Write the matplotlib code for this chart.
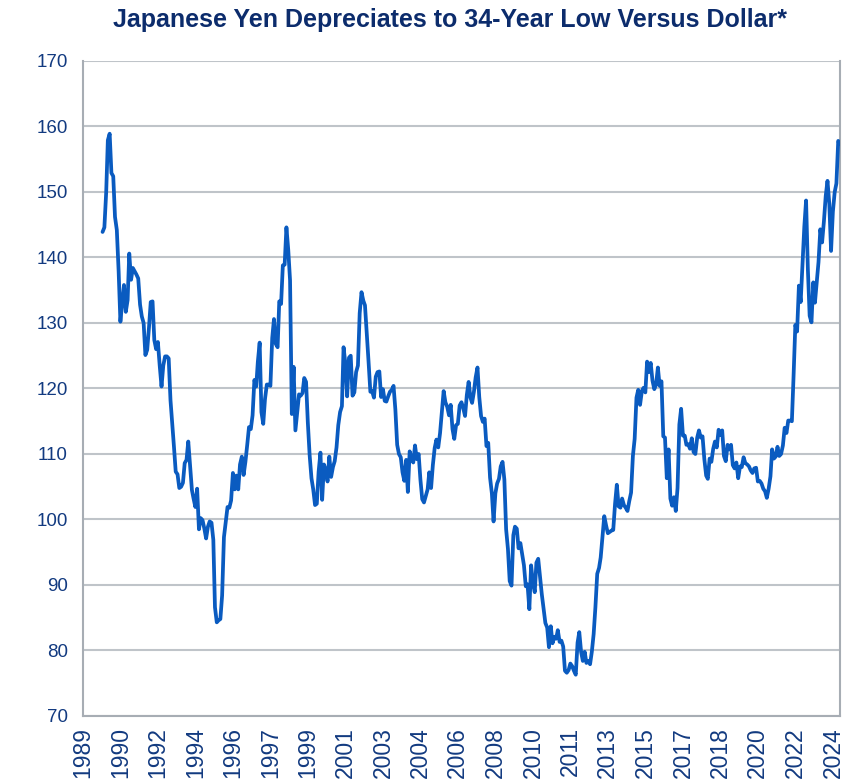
import numpy as np
import matplotlib.pyplot as plt
import matplotlib.dates as mdates

# USD/JPY month-end rate, Dec 1989 through May 2024
first_month = '1989-12'
last_month = '2024-05'
usd_jpy = [
    143.9,                                                                          # 1989 (Dec)
    144.6, 150.0, 157.9, 158.9, 152.9, 152.4, 146.2, 144.2, 137.9, 130.2, 133.2, 135.8,  # 1990
    131.7, 133.5, 140.6, 136.6, 138.4, 137.9, 137.4, 136.8, 132.8, 131.0, 130.0, 125.1,  # 1991
    125.9, 129.4, 133.2, 133.3, 127.4, 126.0, 127.1, 123.5, 120.3, 123.5, 124.9, 124.9,  # 1992
    124.6, 118.2, 114.9, 111.1, 107.3, 106.9, 104.8, 105.0, 105.6, 108.6, 109.1, 111.9,  # 1993
    108.1, 104.5, 103.2, 101.9, 104.7, 98.5, 100.2, 99.9, 98.6, 97.1, 98.9, 99.7,        # 1994
    99.5, 96.9, 86.6, 84.3, 84.6, 84.8, 88.4, 97.3, 99.7, 101.9, 101.8, 102.9,           # 1995
    107.1, 104.6, 106.7, 104.6, 108.4, 109.6, 106.8, 108.8, 111.4, 114.1, 113.8, 115.9,  # 1996
    121.3, 120.3, 124.1, 127.0, 116.4, 114.6, 118.4, 120.6, 120.6, 120.4, 127.7, 130.6,  # 1997
    126.8, 126.3, 133.3, 132.9, 138.8, 138.9, 144.6, 141.2, 136.5, 116.1, 123.3, 113.6,  # 1998
    116.4, 119.1, 118.9, 119.3, 121.6, 121.0, 114.8, 109.8, 106.3, 104.6, 102.2, 102.4,  # 1999
    107.3, 110.2, 103.0, 108.4, 107.6, 105.8, 109.6, 106.5, 108.0, 108.9, 111.0, 114.4,  # 2000
    116.4, 117.3, 126.3, 123.8, 118.8, 124.7, 125.0, 118.9, 119.4, 122.5, 123.5, 131.5,  # 2001
    134.7, 133.4, 132.7, 128.4, 124.1, 119.5, 119.6, 118.6, 121.8, 122.5, 122.6, 118.7,  # 2002
    119.9, 118.1, 118.0, 118.8, 119.5, 119.8, 120.4, 116.8, 111.4, 110.0, 109.5, 107.2,  # 2003
    105.9, 109.1, 104.2, 110.4, 109.4, 108.7, 111.3, 109.2, 110.0, 106.1, 103.1, 102.6,  # 2004
    103.6, 104.6, 107.2, 104.8, 108.3, 110.9, 112.2, 111.0, 113.2, 116.3, 119.6, 117.9,  # 2005
    117.2, 115.9, 117.5, 113.8, 112.3, 114.4, 114.6, 117.4, 117.9, 117.0, 115.8, 119.0,  # 2006
    121.0, 118.6, 117.8, 119.5, 121.7, 123.2, 118.7, 115.8, 114.9, 115.4, 111.2, 111.7,  # 2007
    106.4, 104.0, 99.7, 104.0, 105.5, 106.2, 108.1, 108.8, 106.1, 98.5, 95.5, 90.6,      # 2008
    89.9, 97.6, 98.9, 98.6, 95.6, 96.4, 94.7, 93.0, 89.8, 90.1, 86.3, 93.0,              # 2009
    90.3, 88.9, 93.4, 94.0, 91.4, 88.6, 86.4, 84.2, 83.5, 80.5, 83.7, 81.1,              # 2010
    82.1, 81.8, 83.1, 81.3, 81.5, 80.6, 76.9, 76.6, 77.0, 78.0, 77.6, 76.9,              # 2011
    76.3, 81.2, 82.8, 79.8, 78.4, 79.8, 78.1, 78.4, 77.9, 79.8, 82.5, 86.6,              # 2012
    91.7, 92.6, 94.2, 97.5, 100.5, 99.1, 97.9, 98.1, 98.3, 98.4, 102.4, 105.3,           # 2013
    102.0, 101.8, 103.2, 102.2, 101.8, 101.3, 102.8, 104.1, 109.7, 112.3, 118.6, 119.8,  # 2014
    117.5, 119.6, 120.1, 119.4, 124.1, 122.5, 123.9, 121.2, 119.9, 120.6, 123.2, 120.4,  # 2015
    121.1, 112.7, 112.5, 106.3, 110.7, 103.2, 102.1, 103.4, 101.3, 104.8, 114.5, 116.9,  # 2016
    112.8, 112.8, 111.4, 111.5, 110.8, 112.4, 110.3, 110.0, 112.5, 113.6, 112.5, 112.7,  # 2017
    109.2, 106.7, 106.2, 109.3, 108.8, 110.8, 111.9, 111.0, 113.7, 112.9, 113.6, 109.7,  # 2018
    108.9, 111.4, 110.7, 111.4, 108.3, 107.8, 108.7, 106.3, 108.1, 108.0, 109.5, 108.6,  # 2019
    108.4, 108.1, 107.5, 107.1, 107.8, 107.9, 105.8, 105.9, 105.5, 104.7, 104.3, 103.3,  # 2020
    104.7, 106.6, 110.7, 109.3, 109.6, 111.1, 109.7, 110.0, 111.3, 114.0, 113.2, 115.1,  # 2021
    115.1, 115.0, 121.7, 129.7, 128.7, 135.7, 133.2, 139.0, 144.7, 148.7, 138.1, 131.1,  # 2022
    130.1, 136.2, 133.1, 136.3, 139.3, 144.3, 142.3, 145.5, 149.4, 151.7, 148.2, 141.0,  # 2023
    147.0, 150.0, 151.3, 157.8, 157.3,                                                   # 2024
]

y_ticks = list(range(70, 171, 10))
title = 'Japanese Yen Depreciates to 34-Year Low Versus Dollar*'

months = np.arange(first_month, np.datetime64(last_month) + 1, dtype='datetime64[M]')
tick_months = np.arange('1989-01', '2024-02', 21, dtype='datetime64[M]')

navy = '#0C2C6C'
label_blue = '#123A80'
fonts = ['Liberation Sans', 'DejaVu Sans']

fig = plt.figure(figsize=(8.58, 7.83), dpi=100)
ax = fig.add_axes([0.0967, 0.0856, 0.8823, 0.8365])

ax.plot(months, usd_jpy, color='#0A5BC0', linewidth=2.7,
        solid_joinstyle='round', solid_capstyle='round', zorder=3)

ax.set_ylim(70, 170)
ax.set_yticks(y_ticks)
ax.set_xlim(np.datetime64('1989-01'), np.datetime64(last_month))
ax.set_xticks(tick_months)
ax.xaxis.set_major_formatter(mdates.DateFormatter('%Y'))

ax.grid(axis='y', color='#BFC4C9', linewidth=1.5, zorder=1)
ax.tick_params(length=0)
ax.tick_params(axis='y', pad=11)
ax.tick_params(axis='x', pad=8)
for lab in ax.get_yticklabels():
    lab.set_family(fonts)
    lab.set_fontsize(13.5)
    lab.set_color(label_blue)
for lab in ax.get_xticklabels():
    lab.set_family(fonts)
    lab.set_fontsize(16.5)
    lab.set_color(label_blue)
    lab.set_rotation(90)

for side in ['left', 'right', 'bottom']:
    ax.spines[side].set_color('#A7ADB4')
    ax.spines[side].set_linewidth(1.5)
ax.spines['top'].set_visible(False)

fig.text(0.525, 0.975, title, ha='center', va='center', fontsize=18,
         fontweight='bold', color=navy, family=fonts)

fig.savefig('out.png', dpi=100)
